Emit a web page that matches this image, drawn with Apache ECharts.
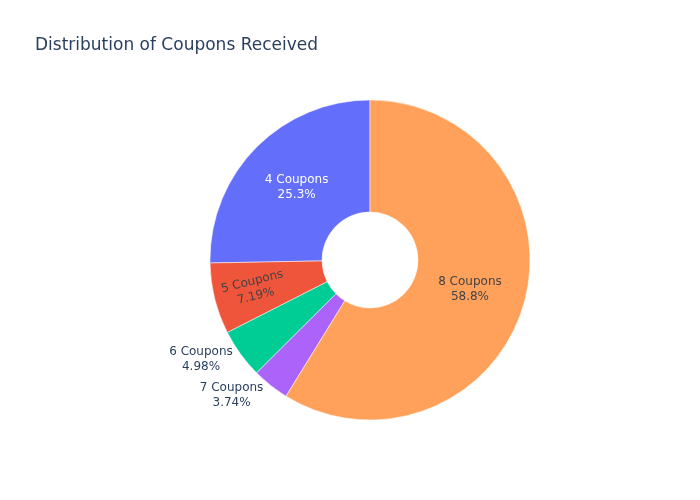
<html lang="en">
<head>
    <meta charset="UTF-8">
    <title>Distribution of Coupons Received</title>
    <script src="https://cdn.jsdelivr.net/npm/echarts@6/dist/echarts.min.js"></script>
    <style>
        body { margin: 0; }
        #chart { width: 700px; height: 500px; }
    </style>
</head>
<body>
    <div id="chart"></div>
    <script>
        // data (counter-clockwise from 12 o'clock)
        var categories = ['4 Coupons', '5 Coupons', '6 Coupons', '7 Coupons', '8 Coupons'];
        var shares = [25.3, 7.19, 4.98, 3.74, 58.8];
        var colors = ['#636efa', '#ef553b', '#00cc96', '#ab63fa', '#ffa15a'];

        // label styling per slice
        var labelStyles = [
            { position: 'inside', color: '#ffffff', padding: [4, 0, 0, 6] },
            { position: 'inside', color: '#444444', rotate: 'radial', padding: [0, 25, 0, 0] },
            { position: 'outside', color: '#2a3f5f', padding: [8, 0, 0, 0] },
            { position: 'outside', color: '#2a3f5f', distanceToLabelLine: -1 },
            { position: 'inside', color: '#444444', padding: [0, 6, 0, 0] }
        ];
        var lineLengths = [3, 3, 3, 13, 3];

        var pieData = categories.map(function (name, i) {
            return {
                name: name,
                value: shares[i],
                itemStyle: { color: colors[i] },
                label: labelStyles[i],
                labelLine: { show: false, length: lineLengths[i], length2: 0 }
            };
        });

        var myChart = echarts.init(document.getElementById('chart'));
        var option = {
            animation: false,
            title: {
                text: 'Distribution of Coupons Received',
                left: 30,
                top: 32,
                textStyle: {
                    fontFamily: 'DejaVu Sans',
                    fontSize: 17,
                    fontWeight: 'normal',
                    color: '#2a3f5f'
                }
            },
            series: [{
                type: 'pie',
                center: [370, 260],
                radius: [48, 160],
                startAngle: 90,
                clockwise: false,
                avoidLabelOverlap: false,
                itemStyle: { borderColor: '#ffffff', borderWidth: 0.5 },
                label: {
                    fontFamily: 'DejaVu Sans',
                    fontSize: 12,
                    lineHeight: 15,
                    align: 'center',
                    formatter: function (p) {
                        return '{t|' + p.name + '}\n{t|' + p.value + '%}';
                    },
                    rich: {
                        t: { width: 64, align: 'center', fontSize: 12, lineHeight: 15, fontFamily: 'DejaVu Sans' }
                    }
                },
                data: pieData
            }]
        };
        myChart.setOption(option);
    </script>
</body>
</html>
